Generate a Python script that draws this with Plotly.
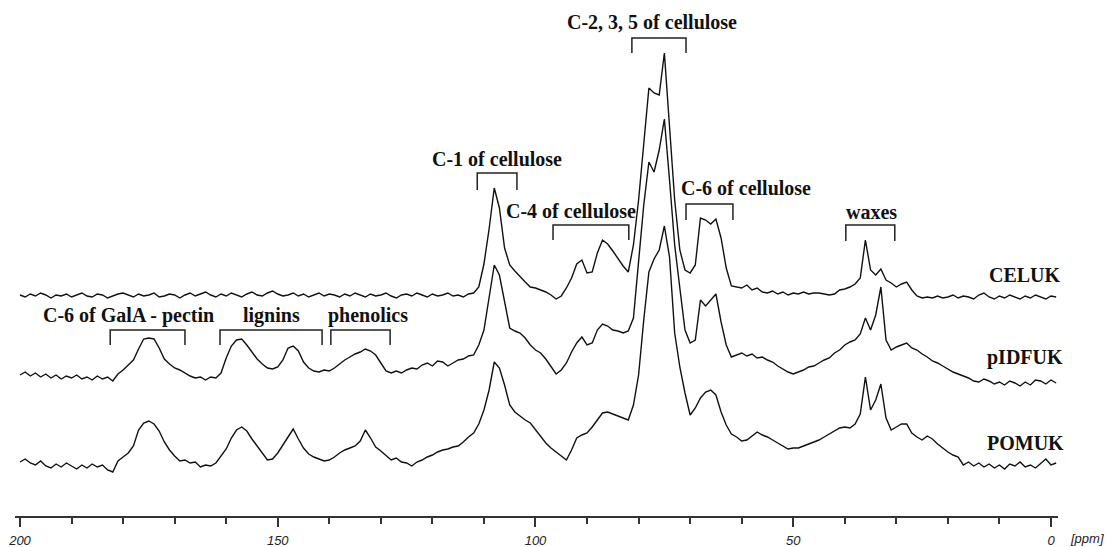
import plotly.graph_objects as go

# chemical shift axis (ppm), 1 ppm sampling, high -> low
PPM = list(range(200, -2, -1))

# intensities (arbitrary units), relative to each trace's baseline
CELUK = [
    1, -1, 2, 0, 3, 1, -2, 1, 0, 2,
    -1, 1, 3, 0, -1, 2, 1, -2, 0, 2,
    3, 1, -1, 2, 0, 1, 3, -1, 0, 2,
    1, -2, 1, 3, 0, 2, 4, 1, -1, 2,
    0, 3, 1, -1, 2, 4, 1, 0, 3, 5,
    2, 0, 1, 3, 0, 2, -1, 1, 3, 0,
    2, 1, -1, 2, 0, 3, 1, -1, 2, 0,
    1, 3, 0, -2, 1, 2, 0, 3, 1, -1,
    2, 0, 1, 3, 0, 1, -1, 2, 3, 9,
    32, 67, 108, 88, 48, 31, 25, 19, 14, 9,
    8, 6, 4, 1, -3, 0, 8, 18, 32, 36,
    23, 24, 43, 56, 52, 45, 37, 30, 24, 51,
    96, 156, 208, 203, 201, 243, 171, 96, 46, 26,
    23, 31, 78, 76, 72, 77, 58, 28, 10, 9,
    8, 11, 6, 8, 4, 3, 5, 2, 4, 1,
    3, 2, 4, 2, 3, 3, 2, 1, 2, 6,
    7, 9, 12, 18, 56, 26, 21, 27, 16, 13,
    9, 12, 14, 6, 0, -2, -1, -2, 0, -2,
    -1, 1, -2, 0, -1, -3, 1, 3, -1, -3,
    0, -2, 1, -1, -3, 0, -2, 1, -1, -3,
    0, -1,
]

PIDFUK = [
    1, 4, 0, 3, -1, 2, -2, 1, -3, 0,
    -2, 1, -3, -1, -4, 0, -3, -1, -5, 2,
    6, 11, 16, 27, 37, 38, 37, 28, 17, 12,
    8, 6, 3, 0, -2, -1, -4, -1, -2, 3,
    18, 30, 36, 37, 31, 24, 17, 12, 8, 7,
    9, 16, 28, 30, 25, 14, 8, 5, 4, 6,
    5, 8, 12, 16, 19, 22, 24, 27, 25, 21,
    13, 5, 3, 5, 3, 6, 8, 7, 11, 13,
    10, 15, 14, 10, 13, 16, 17, 20, 21, 31,
    46, 78, 111, 101, 76, 48, 45, 43, 38, 31,
    26, 23, 17, 9, 2, 6, 13, 24, 33, 39,
    31, 33, 46, 52, 50, 46, 45, 43, 45, 58,
    111, 171, 214, 204, 226, 257, 196, 131, 88, 46,
    33, 36, 76, 70, 76, 82, 54, 31, 19, 21,
    23, 20, 22, 18, 19, 16, 14, 10, 7, 4,
    2, 4, 6, 9, 10, 13, 16, 18, 23, 26,
    31, 34, 36, 42, 58, 46, 61, 89, 36, 26,
    29, 31, 33, 28, 26, 22, 19, 15, 13, 10,
    7, 4, 2, 0, -2, -5, -6, -3, -5, -8,
    -6, -9, -5, -7, -10, -6, -9, -4, -5, -8,
    -4, -7,
]

POMUK = [
    2, 5, 1, -1, 3, -2, -4, 0, -3, 1,
    -2, -5, -1, -4, 0, -3, -1, -6, -8, 3,
    7, 11, 18, 34, 41, 43, 40, 33, 22, 14,
    8, 3, 4, 1, 2, -3, -1, -2, 1, 8,
    15, 26, 34, 37, 33, 25, 18, 10, 4, 5,
    11, 19, 27, 35, 25, 16, 10, 7, 5, 3,
    4, 7, 11, 14, 16, 18, 23, 34, 26, 17,
    13, 8, 4, 6, 2, 1, -2, 2, 4, 7,
    9, 12, 14, 15, 17, 18, 22, 27, 31, 40,
    54, 74, 102, 96, 79, 59, 52, 48, 44, 41,
    34, 28, 21, 16, 12, 8, 4, 14, 26, 29,
    31, 37, 44, 51, 52, 50, 48, 46, 44, 59,
    89, 144, 192, 205, 214, 238, 207, 131, 97, 71,
    49, 56, 66, 72, 74, 69, 52, 39, 30, 27,
    23, 24, 28, 32, 29, 27, 24, 21, 18, 15,
    16, 16, 18, 20, 22, 24, 27, 30, 33, 36,
    37, 36, 40, 50, 87, 54, 64, 80, 46, 34,
    37, 40, 40, 31, 27, 24, 28, 25, 20, 16,
    12, 9, 7, -1, 2, -2, 1, -3, 0, -4,
    -1, -5, 0, -2, 2, -3, -1, -4, 1, 5,
    -1, 1,
]

SAMPLES = ["CELUK", "pIDFUK", "POMUK"]
SERIES = [CELUK, PIDFUK, POMUK]

# assignment regions: label, ppm from, ppm to
REGIONS = [
    ("C-2, 3, 5 of cellulose", 81.3, 70.8),
    ("C-1 of cellulose", 111.3, 103.6),
    ("C-4 of cellulose", 96.6, 81.9),
    ("C-6 of cellulose", 70.8, 61.7),
    ("waxes", 39.8, 30.3),
    ("C-6 of GalA - pectin", 182.5, 168.0),
    ("lignins", 161.2, 141.4),
    ("phenolics", 139.7, 128.2),
]

# ---- layout / styling (positions in plot units) ----
OFFSETS = [220, 140, 52]
NAME_POS = [(1.0048, 241), (1.0067, 159), (1.0077, 73)]  # paper x (right edge), y units
BRACKET_Y = {  # top, bottom of bracket, label y, label x
    "C-2, 3, 5 of cellulose": (478, 463, 494, 77.4),
    "C-1 of cellulose": (343, 326, 357, 107.5),
    "C-4 of cellulose": (291, 276, 305, 93.1),
    "C-6 of cellulose": (312, 296, 328, 59.2),
    "waxes": (291, 275, 304, 34.9),
    "C-6 of GalA - pectin": (186, 171, 201, 178.9),
    "lignins": (186, 171, 201, 151.3),
    "phenolics": (186, 171, 201, 132.5),
}
Y_MAX = 516

LABEL_FONT = dict(family="Liberation Serif, Times New Roman, serif", size=20, color="#111")
AXIS_FONT = dict(family="Liberation Sans Narrow, Liberation Sans, Arial", size=13,
                 color="#222", style="italic")

fig = go.Figure()
for name, vals, off in zip(SAMPLES, SERIES, OFFSETS):
    fig.add_trace(go.Scatter(
        x=PPM, y=[v + off for v in vals], mode="lines", name=name,
        line=dict(color="#111", width=1.4), hoverinfo="skip", showlegend=False,
    ))

annotations = []
shapes = []
for (label, p1, p2) in REGIONS:
    yt, yb, ly, lx = BRACKET_Y[label]
    shapes.append(dict(
        type="path", xref="x", yref="y",
        path=f"M {p1},{yb} L {p1},{yt} L {p2},{yt} L {p2},{yb}",
        line=dict(color="#222", width=1.5),
    ))
    annotations.append(dict(
        x=lx, y=ly, xref="x", yref="y", text=f"<b>{label}</b>", showarrow=False,
        font=LABEL_FONT, xanchor="center", yanchor="middle",
    ))

for name, (nx, ny) in zip(SAMPLES, NAME_POS):
    annotations.append(dict(
        x=nx, y=ny / Y_MAX, xref="paper", yref="paper", text=f"<b>{name}</b>",
        showarrow=False, font=LABEL_FONT, xanchor="right", yanchor="middle",
    ))

annotations.append(dict(
    x=1.0096, y=-22 / Y_MAX, xref="paper", yref="paper", text="[ppm]", showarrow=False,
    xanchor="left", yanchor="middle", font=AXIS_FONT,
))

fig.update_layout(
    width=1107, height=547,
    margin=dict(l=15, r=49, t=0, b=31),
    paper_bgcolor="white", plot_bgcolor="white",
    shapes=shapes, annotations=annotations,
    xaxis=dict(
        range=[200.97, -1.36], showgrid=False, zeroline=False,
        showline=True, linecolor="#333", linewidth=2,
        tick0=0, dtick=50, ticks="outside", ticklen=9, tickwidth=1.5, tickcolor="#333",
        minor=dict(dtick=10, tick0=0, ticks="outside", ticklen=6, tickwidth=1.5, tickcolor="#333"),
        tickfont=AXIS_FONT,
        ticklabelstandoff=2,
    ),
    yaxis=dict(range=[0, Y_MAX], visible=False, fixedrange=True),
)

fig.write_html(
    "out.html",
    config={"displayModeBar": False},
    post_script="document.body.style.margin='0';document.body.style.overflow='hidden';",
)
